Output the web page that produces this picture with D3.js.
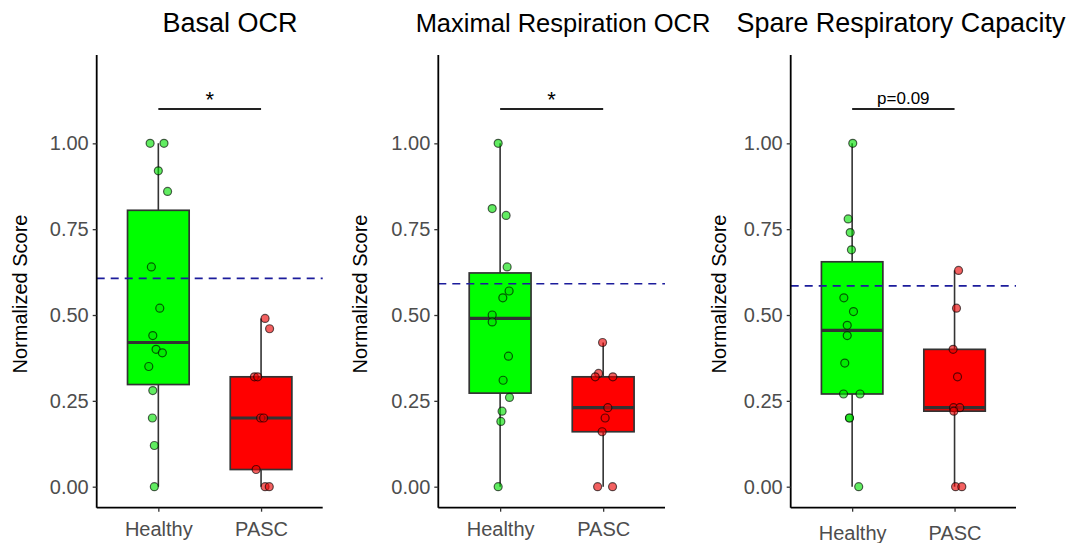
<!DOCTYPE html>
<html>
<head>
<meta charset="utf-8">
<script src="https://cdn.jsdelivr.net/npm/d3@7"></script>
<style>
  html, body { margin: 0; padding: 0; background: #fff; }
  svg { display: block; }
  text { font-family: "Liberation Sans", Arial, sans-serif; }
</style>
</head>
<body>
<svg id="chart" width="1068" height="543"></svg>
<script>
// ---------------- DATA ----------------
const titles = ["Basal OCR", "Maximal Respiration OCR", "Spare Respiratory Capacity"];
const groups = ["Healthy", "PASC"];
const yTicks = [0, 0.25, 0.5, 0.75, 1.0];
const yTickLabels = ["0.00", "0.25", "0.50", "0.75", "1.00"];
const yLabel = "Normalized Score";

const basalHealthy = [1.00, 1.00, 0.92, 0.86, 0.64, 0.52, 0.44, 0.40, 0.39, 0.35, 0.28, 0.20, 0.12, 0.00];
const basalPASC    = [0.49, 0.46, 0.32, 0.32, 0.20, 0.20, 0.05, 0.00, 0.00];
const maxHealthy   = [1.00, 0.81, 0.79, 0.64, 0.57, 0.55, 0.50, 0.48, 0.38, 0.31, 0.26, 0.22, 0.19, 0.00];
const maxPASC      = [0.42, 0.33, 0.32, 0.32, 0.23, 0.20, 0.16, 0.00, 0.00];
const spareHealthy = [1.00, 0.78, 0.74, 0.69, 0.55, 0.51, 0.47, 0.44, 0.36, 0.27, 0.27, 0.20, 0.20, 0.00];
const sparePASC    = [0.63, 0.52, 0.40, 0.32, 0.23, 0.23, 0.22, 0.00, 0.00];

// horizontal jitter, in units of category spacing
const basalHealthyJit = [-0.08, 0.055, 0.0, 0.09, -0.068, 0.014, -0.054, -0.022, 0.039, -0.093, -0.054, -0.058, -0.039, -0.039];
const basalPASCJit    = [0.039, 0.083, -0.065, -0.033, -0.004, 0.025, -0.048, 0.039, 0.08];
const maxHealthyJit   = [-0.019, -0.077, 0.058, 0.068, 0.087, 0.026, -0.077, -0.077, 0.081, 0.029, 0.091, 0.019, 0.007, -0.019];
const maxPASCJit      = [-0.006, -0.045, -0.077, 0.094, 0.045, 0.019, -0.01, -0.054, 0.091];
const spareHealthyJit = [0.006, -0.039, -0.019, -0.007, -0.081, 0.013, -0.048, -0.048, -0.072, -0.084, 0.077, -0.026, -0.026, 0.064];
const sparePASCJit    = [0.039, 0.019, -0.014, 0.029, -0.01, 0.051, -0.007, 0.01, 0.071];

const refLines = [0.607, 0.591, 0.585];
const sigLabels = ["*", "*", "p=0.09"];
const bracketY = 1.10;

const panelData = [
  [basalHealthy, basalPASC], [maxHealthy, maxPASC], [spareHealthy, sparePASC]
];
const panelJit = [
  [basalHealthyJit, basalPASCJit], [maxHealthyJit, maxPASCJit], [spareHealthyJit, sparePASCJit]
];

// ---------------- LAYOUT ----------------
const layout = [
  { x0: 96.7,  x1: 322.7, titleX: 230, titleSize: 27,   ylabX: 27,    xlabY: 536 },
  { x0: 438.3, x1: 665,   titleX: 563, titleSize: 25.5, ylabX: 366.7, xlabY: 536 },
  { x0: 790.7, x1: 1016,  titleX: 901, titleSize: 26.9, ylabX: 726,   xlabY: 540 }
];
const yTop = 55, yBot = 507.7;
const boxFill = ["#00ff00", "#ff0000"];
const ptFill = ["rgba(0,225,0,0.62)", "rgba(235,0,0,0.62)"];

const svg = d3.select("#chart");

const y = d3.scaleLinear().domain([-0.0612, 1.2573]).range([yBot, yTop]);

function stats(vals) {
  const s = vals.slice().sort(d3.ascending);
  const q1 = d3.quantile(s, 0.25), med = d3.quantile(s, 0.5), q3 = d3.quantile(s, 0.75);
  const iqr = q3 - q1;
  const lo = d3.min(s.filter(v => v >= q1 - 1.5 * iqr));
  const hi = d3.max(s.filter(v => v <= q3 + 1.5 * iqr));
  return { q1, med, q3, lo, hi };
}

layout.forEach((L, pi) => {
  const g = svg.append("g");
  const x = d3.scalePoint().domain(groups).range([L.x0, L.x1]).padding(0.6);
  const step = x.step();
  const bw = step * 0.6;

  // title
  g.append("text").attr("x", L.titleX).attr("y", 32)
    .attr("text-anchor", "middle").attr("font-size", L.titleSize + "px").attr("fill", "#000")
    .text(titles[pi]);

  // boxes
  groups.forEach((grp, gi) => {
    const vals = panelData[pi][gi];
    const st = stats(vals);
    const cx = x(grp);
    g.append("line").attr("x1", cx).attr("x2", cx)
      .attr("y1", y(st.hi)).attr("y2", y(st.lo))
      .attr("stroke", "#333").attr("stroke-width", 1.6);
    g.append("rect").attr("x", cx - bw / 2).attr("width", bw)
      .attr("y", y(st.q3)).attr("height", y(st.q1) - y(st.q3))
      .attr("fill", boxFill[gi]).attr("stroke", "#333").attr("stroke-width", 1.7);
    g.append("line").attr("x1", cx - bw / 2).attr("x2", cx + bw / 2)
      .attr("y1", y(st.med)).attr("y2", y(st.med))
      .attr("stroke", "#333").attr("stroke-width", 3.2);
  });

  // points
  groups.forEach((grp, gi) => {
    const vals = panelData[pi][gi];
    const jit = panelJit[pi][gi];
    g.selectAll(null).data(vals.map((v, i) => ({ v, j: jit[i] }))).enter()
      .append("circle")
      .attr("cx", d => x(grp) + d.j * step)
      .attr("cy", d => y(d.v))
      .attr("r", 4)
      .attr("fill", ptFill[gi])
      .attr("stroke", "rgba(0,0,0,0.62)").attr("stroke-width", 1.2);
  });

  // reference dashed line
  g.append("line").attr("x1", L.x0).attr("x2", L.x1)
    .attr("y1", y(refLines[pi])).attr("y2", y(refLines[pi]))
    .attr("stroke", "#1c1c9c").attr("stroke-width", 1.7)
    .attr("stroke-dasharray", "8,6");

  // significance bracket
  g.append("line").attr("x1", x(groups[0])).attr("x2", x(groups[1]))
    .attr("y1", y(bracketY)).attr("y2", y(bracketY))
    .attr("stroke", "#222").attr("stroke-width", 1.8);
  const isStar = sigLabels[pi] === "*";
  g.append("text").attr("x", (x(groups[0]) + x(groups[1])) / 2)
    .attr("y", isStar ? 107 : 104)
    .attr("text-anchor", "middle").attr("font-size", isStar ? "22px" : "17px")
    .attr("fill", "#000").text(sigLabels[pi]);

  // y axis
  const yAxis = d3.axisLeft(y).tickValues(yTicks).tickSize(4).tickPadding(4)
    .tickFormat((d, i) => yTickLabels[i]);
  const ya = g.append("g").attr("transform", `translate(${L.x0},0)`).call(yAxis);
  ya.select(".domain").attr("d", `M0,${yTop}V${yBot}`).attr("stroke", "#000").attr("stroke-width", 1.8);
  ya.selectAll(".tick line").attr("stroke", "#333").attr("stroke-width", 1.3);
  ya.selectAll(".tick text").attr("font-size", "20px").attr("fill", "#4d4d4d")
    .attr("font-family", "'Liberation Sans', Arial, sans-serif");

  // x axis
  const xAxis = d3.axisBottom(x).tickSize(4).tickSizeOuter(0);
  const xa = g.append("g").attr("transform", `translate(0,${yBot})`).call(xAxis);
  xa.select(".domain").attr("d", `M${L.x0},0H${L.x1}`).attr("stroke", "#000").attr("stroke-width", 1.8);
  xa.selectAll(".tick line").attr("stroke", "#333").attr("stroke-width", 1.3);
  xa.selectAll(".tick text").attr("font-size", "20px").attr("fill", "#4d4d4d")
    .attr("font-family", "'Liberation Sans', Arial, sans-serif")
    .attr("dy", null).attr("y", L.xlabY - yBot);

  // y label
  g.append("text")
    .attr("transform", `translate(${L.ylabX},294) rotate(-90)`)
    .attr("text-anchor", "middle").attr("font-size", "20px").attr("fill", "#000")
    .text(yLabel);
});
</script>
</body>
</html>
